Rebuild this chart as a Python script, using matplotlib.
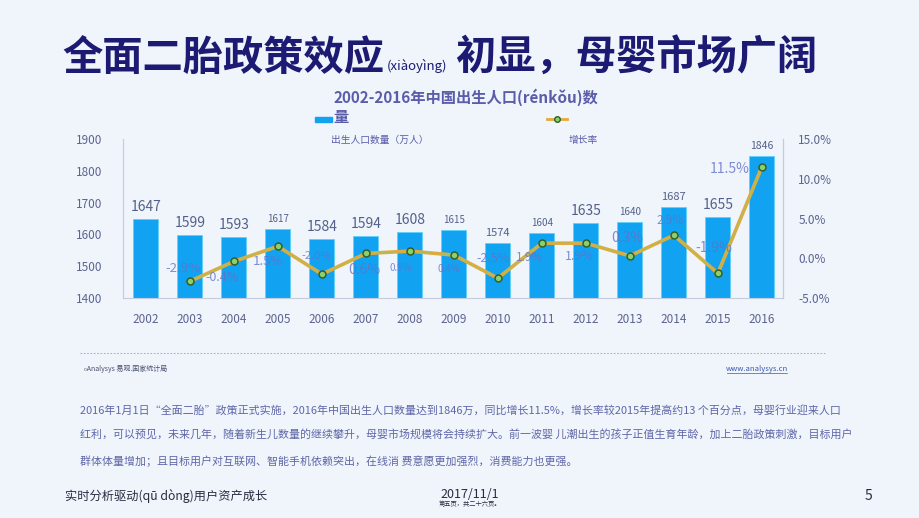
import matplotlib.pyplot as plt
from matplotlib.lines import Line2D
from matplotlib.patches import Rectangle

plt.rcParams['font.family'] = ['Noto Sans CJK SC', 'DejaVu Sans']

# data
years = ['2002', '2003', '2004', '2005', '2006', '2007', '2008', '2009',
         '2010', '2011', '2012', '2013', '2014', '2015', '2016']
births = [1647, 1599, 1593, 1617, 1584, 1594, 1608, 1615,
          1574, 1604, 1635, 1640, 1687, 1655, 1846]
growth_years = years[1:]
growth = [-2.9, -0.4, 1.5, -2.0, 0.6, 0.9, 0.4,
          -2.5, 1.9, 1.9, 0.3, 2.9, -1.9, 11.5]

# label styling (offsets in pixels, font sizes)
bar_label_size = [10, 10, 10, 7, 10, 10, 10, 7, 8, 7, 10, 7, 8, 10, 7.5]
rate_offsets = [(-7, 13), (-12, -16), (-10, -15), (-6, 18), (-2, -17), (-9, -17),
                (-5, -14), (-5, 20), (-12, -14), (-7, -13), (-3, 18), (-4, 15),
                (-4, 25), (-32, -2)]
rate_size = [9.5, 9, 9.5, 8, 10, 7, 7, 9, 8.5, 9, 10, 8.5, 10, 10]

bg = '#EFF5FB'
tick_col = '#5d6390'
fig = plt.figure(figsize=(9.2, 5.18), dpi=100, facecolor=bg)

ax = fig.add_axes([123 / 920, 1 - 298 / 518, 660 / 920, 159 / 518])
ax.set_facecolor(bg)
x = list(range(len(years)))
ax.bar(x, [b - 1400 for b in births], bottom=1400, width=0.57,
       color='#12A2F2', edgecolor='#5fd0fb', linewidth=0.6, zorder=2)
ax.set_ylim(1400, 1900)
ax.set_xlim(-0.52, 14.48)
ax.set_yticks([1400, 1500, 1600, 1700, 1800, 1900])
ax.set_xticks(x)
ax.set_xticklabels(years)
ax.tick_params(axis='both', length=0, colors=tick_col, labelsize=8.5)
ax.tick_params(axis='y', pad=15)
ax.tick_params(axis='x', pad=11)
ax.spines['top'].set_visible(False)
for s in ['left', 'right', 'bottom']:
    ax.spines[s].set_color('#c5cbdc')
    ax.spines[s].set_linewidth(0.8)

for i, b in enumerate(births):
    ax.annotate(str(b), (i, b), xytext=(0, 5), textcoords='offset pixels',
                ha='center', va='bottom', fontsize=bar_label_size[i], color='#55608a')

ax2 = ax.twinx()
ax2.set_ylim(-5, 15)
ax2.set_yticks([-5, 0, 5, 10, 15])
ax2.set_yticklabels(['-5.0%', '0.0%', '5.0%', '10.0%', '15.0%'])
ax2.tick_params(axis='y', length=0, colors=tick_col, labelsize=8.5, pad=11)
for s in ['top', 'left', 'bottom']:
    ax2.spines[s].set_visible(False)
ax2.spines['right'].set_color('#c5cbdc')
ax2.spines['right'].set_linewidth(0.8)

gx = [years.index(y) for y in growth_years]
ax2.plot(gx, growth, color='#E6A93A', linewidth=2.6, zorder=3)
ax2.plot(gx, growth, color='#8fc96a', linewidth=1.0, alpha=0.55, zorder=3)
ax2.plot(gx, growth, linestyle='none', marker='o', markersize=5,
         markerfacecolor='#8ccf6e', markeredgecolor='#33602a', markeredgewidth=1.1, zorder=4)
for i, (gxi, g) in enumerate(zip(gx, growth)):
    dx, dy = rate_offsets[i]
    ax2.annotate(f'{g:.1f}%', (gxi, g), xytext=(dx, dy), textcoords='offset pixels',
                 ha='center', va='center', fontsize=rate_size[i],
                 color='#6272c8', alpha=0.8, zorder=5)

# titles
navy = '#1c1a72'
fig.text(62 / 920, 1 - 58 / 518, '全面二胎政策效应', fontsize=29, color=navy,
         fontweight='bold', va='center', ha='left')
fig.text(387 / 920, 1 - 66 / 518, '(xiàoyìng)', fontsize=9.5, color=navy,
         va='center', ha='left')
fig.text(455 / 920, 1 - 58 / 518, '初显，母婴市场广阔', fontsize=29, color=navy,
         fontweight='bold', va='center', ha='left')

title_col = '#5b5caa'
fig.text(333 / 920, 1 - 97 / 518, '2002-2016年中国出生人口(rénkǒu)数', fontsize=11,
         color=title_col, fontweight='bold', va='center', ha='left')
fig.text(333 / 920, 1 - 117 / 518, '量', fontsize=11,
         color=title_col, fontweight='bold', va='center', ha='left')

# legend
fig.patches.append(Rectangle((315 / 920, 1 - 122 / 518), 17 / 920, 5 / 518,
                             transform=fig.transFigure, color='#12A2F2', zorder=1))
fig.text(331 / 920, 1 - 140 / 518, '出生人口数量（万人）', fontsize=7,
         color='#5b5caa', va='center', ha='left')
fig.lines.append(Line2D([547 / 920, 567 / 920], [1 - 119 / 518, 1 - 119 / 518],
                        transform=fig.transFigure, color='#E6A93A', linewidth=2))
fig.lines.append(Line2D([557 / 920], [1 - 119 / 518], transform=fig.transFigure,
                        marker='o', markersize=4, markerfacecolor='#8ccf6e',
                        markeredgecolor='#33602a', linestyle='none'))
fig.text(569 / 920, 1 - 140 / 518, '增长率', fontsize=7,
         color='#5b5caa', va='center', ha='left')

# source line
fig.lines.append(Line2D([80 / 920, 825 / 920], [1 - 353 / 518, 1 - 353 / 518],
                        transform=fig.transFigure, color='#9aa0b4', linewidth=0.6,
                        linestyle=(0, (2, 2))))
fig.text(84 / 920, 1 - 369 / 518, '₀Analysys 易观.国家统计局', fontsize=5,
         color='#4a4f70', va='center', ha='left')
fig.text(757 / 920, 1 - 369 / 518, 'www.analysys.cn', fontsize=5.5,
         color='#3c56b0', va='center', ha='center')
fig.lines.append(Line2D([727 / 920, 787 / 920], [1 - 373 / 518, 1 - 373 / 518],
                        transform=fig.transFigure, color='#3c56b0', linewidth=0.5))

para = [
    '2016年1月1日“全面二胎”政策正式实施，2016年中国出生人口数量达到1846万，同比增长11.5%，增长率较2015年提高约13 个百分点，母婴行业迎来人口',
    '红利，可以预见，未来几年，随着新生儿数量的继续攀升，母婴市场规模将会持续扩大。前一波婴 儿潮出生的孩子正值生育年龄，加上二胎政策刺激，目标用户',
    '群体体量增加；且目标用户对互联网、智能手机依赖突出，在线消 费意愿更加强烈，消费能力也更强。',
]
for k, line in enumerate(para):
    fig.text(80 / 920, 1 - (410 + 25.5 * k) / 518, line, fontsize=7.9,
             color='#5f66a8', va='center', ha='left')

# footer
fig.text(65 / 920, 1 - 496 / 518, '实时分析驱动(qū dòng)用户资产成长', fontsize=8.8,
         color='#2b2b40', va='center', ha='left')
fig.text(470 / 920, 1 - 494 / 518, '2017/11/1', fontsize=9,
         color='#2b2b40', va='center', ha='center')
fig.text(470 / 920, 1 - 504 / 518, '第五页，共二十六页。', fontsize=4.5,
         color='#2b2b40', va='center', ha='center')
fig.text(868 / 920, 1 - 496 / 518, '5', fontsize=10,
         color='#2b2b40', va='center', ha='center')

fig.savefig('out.png', dpi=100, facecolor=bg)
